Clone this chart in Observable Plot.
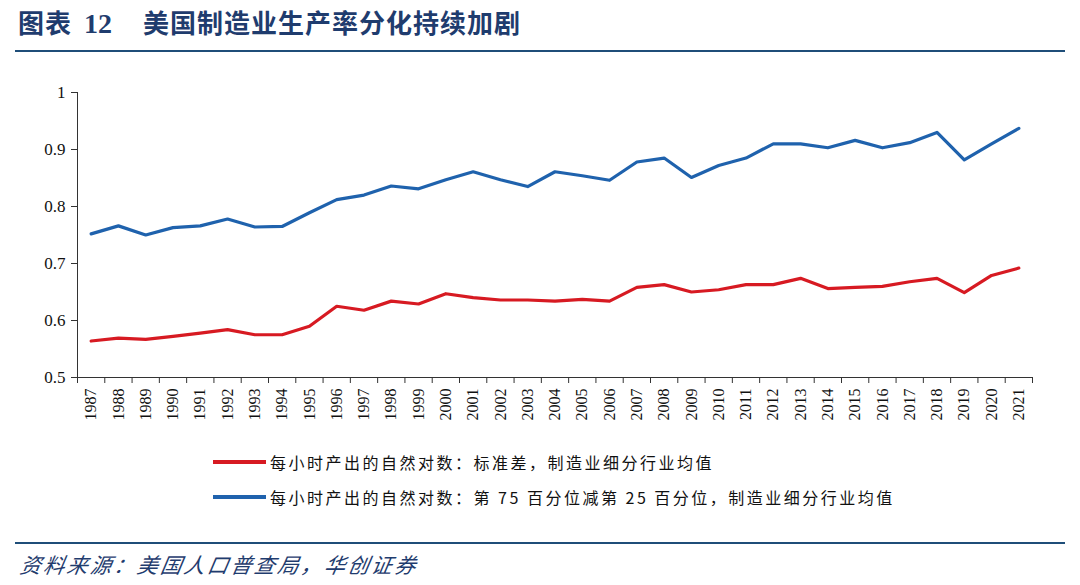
<!DOCTYPE html>
<html>
<head>
<meta charset="utf-8">
<script src="https://cdn.jsdelivr.net/npm/d3@7"></script>
<script src="https://cdn.jsdelivr.net/npm/@observablehq/plot@0.6"></script>
<style>
  html, body { margin: 0; padding: 0; background: #fff; }
  #root { position: relative; width: 1080px; height: 585px; overflow: hidden; background: #fff; }
  .abs { position: absolute; white-space: nowrap; }
  #title { left: 18px; top: 3px; font-family: "Noto Sans CJK SC", sans-serif; font-size: 26px; font-weight: 700; color: #1f3c6e; letter-spacing: 1px; }
  #title .num { font-family: "Liberation Serif", serif; font-size: 28px; font-weight: 700; margin: 0 31px 0 12px; letter-spacing: 0; }
  .hr { position: absolute; left: 15px; width: 1050px; height: 2px; background: #1f4e79; }
  .leg { position: absolute; left: 213px; font-family: "Noto Sans CJK SC", sans-serif; font-size: 16px; color: #111; letter-spacing: 2.5px; display: flex; align-items: center; white-space: nowrap; }
  .leg .sw { display: inline-block; width: 53px; height: 4px; margin-right: 4px; }
  #src { left: 18px; top: 549px; font-family: "Noto Sans CJK SC", sans-serif; font-style: italic; font-size: 21px; color: #1f3c6e; letter-spacing: 2.4px; transform: skewX(-10deg); transform-origin: left bottom; }
  #chart { position: absolute; left: 0; top: 70px; }
</style>
</head>
<body>
<div id="root">
  <div id="title" class="abs">图表<span class="num">12</span>美国制造业生产率分化持续加剧</div>
  <div class="hr" style="top:50px"></div>
  <div id="chart"></div>
  <div class="leg" id="leg1" style="top:450px"></div>
  <div class="leg" id="leg2" style="top:485px"></div>
  <div class="hr" style="top:542px"></div>
  <div id="src" class="abs">资料来源：美国人口普查局，华创证券</div>
</div>
<script>
const years = [1987,1988,1989,1990,1991,1992,1993,1994,1995,1996,1997,1998,1999,2000,2001,2002,2003,2004,2005,2006,2007,2008,2009,2010,2011,2012,2013,2014,2015,2016,2017,2018,2019,2020,2021];
const stdevValues = [0.564,0.569,0.567,0.572,0.578,0.584,0.575,0.575,0.590,0.625,0.618,0.634,0.629,0.647,0.640,0.636,0.636,0.634,0.637,0.634,0.658,0.663,0.650,0.654,0.663,0.663,0.674,0.656,0.658,0.660,0.668,0.674,0.649,0.679,0.692];
const spreadValues = [0.752,0.766,0.750,0.763,0.766,0.778,0.764,0.765,0.789,0.812,0.820,0.836,0.831,0.847,0.861,0.847,0.835,0.861,0.854,0.846,0.878,0.885,0.851,0.872,0.885,0.910,0.910,0.903,0.916,0.903,0.912,0.930,0.882,0.910,0.937];
const yTicks = [0.5, 0.6, 0.7, 0.8, 0.9, 1];
const seriesNames = ["每小时产出的自然对数：标准差，制造业细分行业均值", "每小时产出的自然对数：第 75 百分位减第 25 百分位，制造业细分行业均值"];
const seriesColors = ["#d71a22", "#1f62ad"];

const data = years.map((y, i) => ({year: y, stdev: stdevValues[i], spread: spreadValues[i]}));
const boundaries = years.map(y => y - 0.5).concat([years[years.length - 1] + 0.5]);
const xDomain = [boundaries[0], boundaries[boundaries.length - 1]];

const chart = Plot.plot({
  width: 1080,
  height: 370,
  marginTop: 22,
  marginBottom: 63,
  marginLeft: 77,
  marginRight: 48,
  style: {fontFamily: "Liberation Serif, serif", fontSize: "17px", color: "#111", background: "transparent"},
  x: {domain: xDomain, label: null},
  y: {domain: [0.5, 1], label: null},
  marks: [
    Plot.axisY({ticks: yTicks, tickSize: 6, tickPadding: 6, tickFormat: d => String(+d.toFixed(1)), fontSize: 17, stroke: "#333", label: null}),
    Plot.axisX({ticks: boundaries, tickSize: 6, tickFormat: () => "", stroke: "#333", label: null}),
    Plot.axisX({ticks: years, tickSize: 0, tickPadding: 11, tickRotate: -90, tickFormat: d => String(d), fontSize: 16, label: null}),
    Plot.ruleX([xDomain[0]], {stroke: "#333"}),
    Plot.ruleY([0.5], {stroke: "#333"}),
    Plot.lineY(data, {x: "year", y: "stdev", stroke: seriesColors[0], strokeWidth: 3.2}),
    Plot.lineY(data, {x: "year", y: "spread", stroke: seriesColors[1], strokeWidth: 3.2})
  ]
});
document.getElementById("chart").appendChild(chart);

["leg1", "leg2"].forEach((id, i) => {
  const el = document.getElementById(id);
  const sw = document.createElement("span");
  sw.className = "sw";
  sw.style.background = seriesColors[i];
  el.appendChild(sw);
  const t = document.createElement("span");
  t.textContent = seriesNames[i];
  el.appendChild(t);
});
</script>
</body>
</html>
